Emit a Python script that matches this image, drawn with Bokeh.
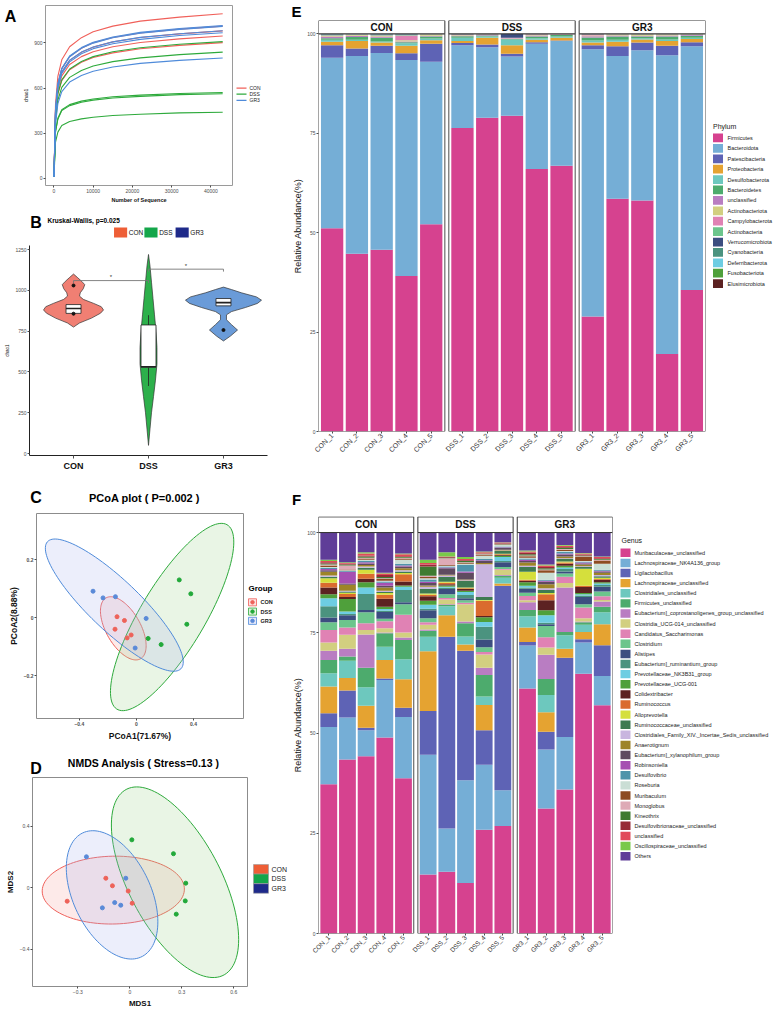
import math
import numpy as np
from bokeh.plotting import figure
from bokeh.layouts import row, column
from bokeh.models import FixedTicker, ColumnDataSource, Range1d, BasicTickFormatter
from bokeh.core.properties import value
from bokeh.embed import file_html
from bokeh.resources import INLINE

FONT = "Liberation Sans"

# ------------------------------------------------------------------ data
groups = ["CON", "DSS", "GR3"]

# A: rarefaction curves, chao1 against number of sequences
seq_depth = [10, 400, 1000, 2000, 4000, 7000, 10000, 15000, 22000, 32000, 43000]
rare_con = [
    [10, 492, 678, 788, 875, 935, 974, 1012, 1045, 1072, 1094],
    [10, 455, 627, 729, 810, 865, 901, 936, 966, 992, 1012],
    [10, 441, 608, 706, 784, 838, 872, 907, 936, 960, 980],
    [10, 426, 587, 681, 757, 809, 842, 875, 903, 927, 946],
    [10, 406, 559, 649, 722, 771, 803, 834, 861, 884, 902],
]
rare_dss = [
    [10, 409, 564, 654, 727, 777, 809, 841, 868, 891, 909],
    [10, 378, 520, 604, 671, 717, 747, 776, 801, 822, 839],
    [10, 314, 399, 456, 490, 513, 527, 542, 553, 564, 570],
    [10, 309, 393, 450, 483, 506, 520, 534, 545, 556, 562],
    [10, 241, 307, 351, 378, 395, 406, 417, 426, 435, 439],
]
rare_gr3 = [
    [10, 457, 630, 732, 813, 869, 904, 940, 970, 996, 1016],
    [10, 455, 626, 727, 808, 864, 899, 934, 965, 990, 1010],
    [10, 441, 608, 706, 785, 839, 873, 907, 937, 961, 981],
    [10, 436, 600, 697, 774, 828, 862, 895, 924, 949, 968],
    [10, 360, 496, 576, 640, 684, 712, 740, 764, 784, 800],
]

# B: chao1 violins (value, half width) plus box summaries
violin_con_y = [775, 800, 830, 860, 880, 900, 920, 945, 965, 985, 1010, 1035, 1055, 1080, 1100]
violin_con_w = [0, 0.08, 0.24, 0.36, 0.40, 0.37, 0.27, 0.13, 0.08, 0.09, 0.13, 0.15, 0.11, 0.05, 0]
violin_dss_y = [50, 150, 250, 350, 450, 550, 650, 750, 850, 950, 1050, 1150, 1220]
violin_dss_w = [0, 0.02, 0.04, 0.067, 0.093, 0.113, 0.113, 0.10, 0.08, 0.06, 0.04, 0.02, 0]
violin_gr3_y = [690, 720, 757, 790, 820, 850, 870, 895, 920, 940, 960, 985, 1005, 1020]
violin_gr3_w = [0, 0.093, 0.187, 0.107, 0.04, 0.04, 0.107, 0.293, 0.453, 0.507, 0.44, 0.24, 0.107, 0]
box_q1 = [859, 529, 905]
box_med = [889, 532, 925]
box_q3 = [913, 788, 950]
box_lo = [859, 414, 905]
box_hi = [913, 848, 950]
outlier_x = [1, 1, 3]
outlier_y = [1030, 857, 757]
sig_left = [1, 2]
sig_right = [2, 3]
sig_y = [1060, 1130]
sig_text = ["*", "*"]

# C: PCoA scores
pcoa1_con = [-0.136, -0.084, -0.150, -0.037, -0.065]
pcoa2_con = [0.003, -0.010, -0.040, -0.060, -0.070]
pcoa1_dss = [0.300, 0.381, 0.353, 0.173, 0.082]
pcoa2_dss = [0.130, 0.082, -0.023, -0.093, -0.072]
pcoa1_gr3 = [-0.304, -0.234, -0.147, 0.068, -0.009]
pcoa2_gr3 = [0.091, 0.068, 0.072, -0.003, -0.105]
# confidence ellipses: centre x, centre y, half extent x, half extent y, correlation
pcoa_ell_con = (-0.092, -0.037, 0.160, 0.109, -0.55)
pcoa_ell_dss = (0.250, 0.002, 0.432, 0.323, 0.80)
pcoa_ell_gr3 = (-0.155, 0.043, 0.483, 0.228, -0.86)

# D: NMDS scores
mds1_con = [-0.138, -0.100, -0.009, 0.014, -0.361]
mds2_con = [0.062, 0.013, -0.021, -0.100, -0.087]
mds1_dss = [0.012, 0.252, 0.323, 0.320, 0.268]
mds2_dss = [0.311, 0.221, 0.030, -0.085, -0.171]
mds1_gr3 = [-0.250, -0.023, -0.087, -0.052, -0.158]
mds2_gr3 = [0.201, 0.062, -0.096, -0.113, -0.130]
nmds_ell_con = (-0.095, -0.015, 0.410, 0.220, 0.03)
nmds_ell_dss = (0.261, 0.036, 0.367, 0.618, -0.60)
nmds_ell_gr3 = (-0.102, -0.046, 0.264, 0.416, -0.42)

# E: phylum relative abundance (%)
samples = ["CON_1", "CON_2", "CON_3", "CON_4", "CON_5",
           "DSS_1", "DSS_2", "DSS_3", "DSS_4", "DSS_5",
           "GR3_1", "GR3_2", "GR3_3", "GR3_4", "GR3_5"]
phyla = ["Firmicutes", "Bacteroidota", "Patescibacteria", "Proteobacteria",
         "Desulfobacterota", "Bacteroidetes", "unclassified", "Actinobacteriota",
         "Campylobacterota", "Actinobacteria", "Verrucomicrobiota", "Cyanobacteria",
         "Deferribacterota", "Fusobacteriota", "Elusimicrobiota"]
phylum_CON_1 = [51.1, 42.9, 3.1, 0.9, 0.5, 0.4, 0.3, 0.2, 0.2, 0.1, 0.1, 0.1, 0.1, 0.0, 0.0]
phylum_CON_2 = [44.7, 49.7, 1.9, 1.9, 0.3, 0.7, 0.3, 0.2, 0.1, 0.1, 0.0, 0.0, 0.1, 0.0, 0.0]
phylum_CON_3 = [45.7, 49.5, 1.8, 0.8, 0.3, 0.9, 0.2, 0.2, 0.2, 0.1, 0.1, 0.1, 0.1, 0.0, 0.0]
phylum_CON_4 = [39.1, 54.3, 1.7, 1.9, 0.6, 0.3, 0.2, 0.3, 1.2, 0.1, 0.1, 0.1, 0.1, 0.0, 0.0]
phylum_CON_5 = [52.1, 40.9, 4.5, 0.9, 0.4, 0.5, 0.2, 0.3, 0.1, 0.1, 0.0, 0.0, 0.0, 0.0, 0.0]
phylum_DSS_1 = [76.3, 20.8, 0.6, 0.5, 0.8, 0.4, 0.2, 0.1, 0.1, 0.1, 0.1, 0.0, 0.0, 0.0, 0.0]
phylum_DSS_2 = [78.9, 17.7, 0.7, 1.7, 0.3, 0.3, 0.1, 0.1, 0.1, 0.0, 0.1, 0.0, 0.0, 0.0, 0.0]
phylum_DSS_3 = [79.4, 14.9, 0.7, 2.1, 1.5, 0.1, 0.1, 0.1, 0.1, 0.0, 1.0, 0.0, 0.0, 0.0, 0.0]
phylum_DSS_4 = [66.0, 31.5, 0.4, 0.6, 0.4, 0.4, 0.3, 0.1, 0.2, 0.1, 0.0, 0.0, 0.0, 0.0, 0.0]
phylum_DSS_5 = [66.8, 31.4, 0.1, 0.7, 0.3, 0.4, 0.1, 0.1, 0.1, 0.0, 0.0, 0.0, 0.0, 0.0, 0.0]
phylum_GR3_1 = [28.9, 67.2, 1.0, 0.7, 0.5, 0.8, 0.3, 0.2, 0.2, 0.1, 0.1, 0.0, 0.0, 0.0, 0.0]
phylum_GR3_2 = [58.5, 35.9, 2.5, 1.1, 0.5, 0.8, 0.3, 0.2, 0.1, 0.1, 0.0, 0.0, 0.0, 0.0, 0.0]
phylum_GR3_3 = [58.1, 37.8, 1.9, 0.8, 0.3, 0.4, 0.2, 0.3, 0.1, 0.1, 0.0, 0.0, 0.0, 0.0, 0.0]
phylum_GR3_4 = [19.5, 75.1, 2.4, 1.2, 0.4, 0.7, 0.3, 0.2, 0.1, 0.1, 0.0, 0.0, 0.0, 0.0, 0.0]
phylum_GR3_5 = [35.6, 61.3, 1.0, 0.8, 0.3, 0.5, 0.2, 0.1, 0.1, 0.1, 0.0, 0.0, 0.0, 0.0, 0.0]

# F: genus relative abundance (%)
genera = ["Muribaculaceae_unclassified", "Lachnospiraceae_NK4A136_group", "Ligilactobacillus",
          "Lachnospiraceae_unclassified", "Clostridiales_unclassified", "Firmicutes_unclassified",
          "Eubacterium]_coprostanoligenes_group_unclassified", "Clostridia_UCG-014_unclassified",
          "Candidatus_Saccharimonas", "Clostridium", "Alistipes", "Eubacterium]_ruminantium_group",
          "Prevotellaceae_NK3B31_group", "Prevotellaceae_UCG-001", "Colidextribacter",
          "Ruminococcus", "Alloprevotella", "Ruminococcaceae_unclassified",
          "Clostridiales_Family_XIV._Incertae_Sedis_unclassified", "Anaerotignum",
          "Eubacterium]_xylanophilum_group", "Robinsoniella", "Desulfovibrio", "Roseburia",
          "Muribaculum", "Monoglobus", "Kineothrix", "Desulfovibrionaceae_unclassified",
          "unclassified", "Oscillospiraceae_unclassified", "Others"]
genus_CON_1 = [37.2, 14.3, 3.4, 6.7, 3.3, 3.3, 2.3, 2.1, 3.1, 1.9, 1.2, 2.8, 2.0, 1.0, 1.7, 1.2,
               1.1, 0.4, 0.3, 0.9, 0.4, 0.3, 0.3, 0.2, 0.4, 0.2, 0.3, 0.3, 0.3, 0.3, 6.8]
genus_CON_2 = [43.4, 10.5, 6.7, 3.1, 4.3, 1.1, 1.9, 3.5, 1.8, 1.9, 1.2, 0.3, 0.6, 3.1, 0.5, 0.8,
               0.3, 0.3, 0.2, 1.5, 0.3, 2.9, 0.2, 0.2, 0.2, 1.0, 0.2, 0.2, 0.2, 0.2, 7.4]
genus_CON_3 = [44.2, 6.5, 0.6, 5.5, 4.6, 4.9, 8.3, 1.1, 1.7, 2.7, 0.6, 4.0, 1.6, 1.3, 0.9, 1.2,
               1.0, 0.5, 0.3, 0.4, 0.4, 0.3, 0.3, 0.3, 0.3, 0.2, 0.3, 0.3, 0.5, 0.3, 4.9]
genus_CON_4 = [48.9, 14.3, 0.4, 4.6, 3.3, 3.4, 0.2, 1.0, 1.8, 0.6, 1.7, 0.3, 0.4, 0.6, 2.0, 1.0,
               0.4, 0.3, 0.3, 0.8, 0.4, 0.8, 0.3, 0.2, 0.4, 0.2, 0.3, 0.5, 0.4, 0.2, 10.0]
genus_CON_5 = [38.7, 15.3, 2.3, 7.1, 5.0, 4.8, 0.6, 1.3, 4.4, 2.6, 0.5, 3.1, 0.8, 0.3, 1.0, 1.8,
               0.3, 0.4, 0.3, 0.5, 0.4, 0.3, 0.4, 1.0, 0.3, 0.2, 0.2, 0.2, 0.5, 0.2, 5.2]
genus_DSS_1 = [14.7, 29.9, 10.9, 14.9, 3.6, 1.5, 0.3, 1.2, 0.6, 1.0, 2.0, 0.4, 1.0, 1.0, 1.1, 0.4,
               0.3, 1.2, 0.5, 0.3, 0.6, 0.3, 0.6, 0.3, 0.3, 0.3, 2.3, 0.5, 0.4, 0.8, 6.8]
genus_DSS_2 = [15.4, 10.8, 47.8, 5.4, 2.2, 0.3, 0.2, 1.2, 0.4, 0.9, 1.3, 0.3, 0.3, 0.3, 0.3, 0.4,
               0.2, 1.2, 0.4, 0.2, 1.6, 0.2, 0.2, 0.2, 0.2, 1.7, 0.1, 0.2, 0.1, 1.1, 4.9]
genus_DSS_3 = [12.6, 25.6, 32.3, 1.6, 2.0, 3.3, 0.4, 4.3, 0.4, 0.6, 0.5, 0.8, 0.8, 0.3, 0.4, 0.2,
               0.2, 1.6, 0.2, 0.2, 1.7, 0.3, 1.6, 0.3, 0.2, 0.2, 0.3, 0.2, 0.3, 0.5, 6.1]
genus_DSS_4 = [25.9, 16.2, 8.6, 6.3, 2.1, 5.4, 1.8, 3.3, 0.6, 1.2, 1.9, 3.2, 1.2, 1.2, 0.3, 3.8,
               0.2, 0.7, 8.2, 0.3, 0.5, 0.2, 0.3, 0.8, 0.2, 0.2, 0.1, 0.1, 0.3, 0.2, 4.7]
genus_DSS_5 = [26.8, 8.9, 51.0, 0.6, 1.4, 0.5, 0.2, 1.3, 0.2, 0.5, 1.2, 0.3, 1.0, 0.3, 0.2, 0.2,
               0.1, 0.7, 0.1, 0.2, 0.5, 0.1, 0.2, 0.4, 0.1, 0.1, 0.1, 0.1, 0.2, 0.1, 2.4]
genus_GR3_1 = [61.1, 10.7, 0.9, 3.6, 2.8, 1.6, 1.9, 0.5, 1.1, 0.8, 1.0, 0.3, 0.4, 0.9, 0.4, 0.2,
               2.0, 1.2, 0.3, 0.8, 0.4, 0.3, 0.3, 0.2, 0.4, 0.2, 0.3, 0.4, 0.3, 0.2, 4.5]
genus_GR3_2 = [31.2, 14.7, 4.4, 4.9, 4.3, 4.0, 6.0, 1.8, 2.6, 2.8, 0.4, 0.4, 1.9, 1.2, 2.5, 1.5,
               0.3, 0.8, 0.4, 1.0, 0.6, 0.3, 0.2, 1.8, 0.6, 0.2, 0.3, 0.3, 0.4, 0.2, 8.0]
genus_GR3_3 = [35.9, 13.1, 19.8, 2.2, 3.4, 0.8, 11.1, 1.1, 1.6, 0.8, 0.5, 0.6, 0.4, 0.4, 0.5, 0.3,
               0.3, 0.6, 0.2, 0.4, 0.5, 0.3, 0.4, 0.2, 0.3, 0.2, 0.3, 0.2, 0.3, 0.2, 3.1]
genus_GR3_4 = [64.8, 7.8, 0.8, 1.8, 1.8, 0.6, 0.2, 0.8, 2.7, 0.8, 1.8, 0.4, 0.3, 0.3, 1.5, 0.3,
               4.3, 0.4, 0.2, 0.4, 0.3, 0.2, 0.2, 0.2, 1.0, 0.2, 0.2, 0.2, 0.3, 0.1, 5.1]
genus_GR3_5 = [56.9, 7.3, 7.7, 5.2, 3.0, 1.4, 1.3, 0.4, 0.9, 1.2, 1.2, 0.4, 0.4, 0.3, 0.6, 0.2,
               0.3, 0.4, 0.3, 0.6, 0.3, 0.2, 0.2, 1.5, 0.8, 0.2, 0.2, 0.2, 0.3, 0.1, 6.0]

phylum_rows = [phylum_CON_1, phylum_CON_2, phylum_CON_3, phylum_CON_4, phylum_CON_5,
               phylum_DSS_1, phylum_DSS_2, phylum_DSS_3, phylum_DSS_4, phylum_DSS_5,
               phylum_GR3_1, phylum_GR3_2, phylum_GR3_3, phylum_GR3_4, phylum_GR3_5]
genus_rows = [genus_CON_1, genus_CON_2, genus_CON_3, genus_CON_4, genus_CON_5,
              genus_DSS_1, genus_DSS_2, genus_DSS_3, genus_DSS_4, genus_DSS_5,
              genus_GR3_1, genus_GR3_2, genus_GR3_3, genus_GR3_4, genus_GR3_5]

# ------------------------------------------------------------------ palettes
taxa_colors = ["#D6428F", "#75AED6", "#5E63B5", "#E5A331", "#6DC8BE", "#4DAB6D", "#B97DC2",
               "#D2CF80", "#E082B4", "#6CC58C", "#3C4E80", "#4B937F", "#6DCDE2", "#4FA03B",
               "#5C2222", "#DA6B2E", "#D5DF3C", "#3F7B52", "#C9B5DF", "#9D8428", "#5F4B60",
               "#A650B2", "#4F94AA", "#CADED5", "#8D4B22", "#DEAAB6", "#3F7B31", "#972B36",
               "#E14A59", "#79C94A", "#5F3D98"]
line_col = {"CON": "#F0605A", "DSS": "#2EAA3C", "GR3": "#4F8BDA"}
point_col = {"CON": "#EE6259", "DSS": "#22A93A", "GR3": "#5A8AD8"}
violin_fill = {"CON": "#F07F73", "DSS": "#2DB04B", "GR3": "#6A9BD8"}
key_col = {"CON": "#EE5E36", "DSS": "#14A64A", "GR3": "#1E2A8A"}
ell_fill = {"CON": "#F8A09A", "DSS": "#9CD38A", "GR3": "#A9B3EE"}


# ------------------------------------------------------------------ helpers
def base_fig(w, h, left, right, top, bottom, xr, yr):
    p = figure(width=w, height=h, x_range=Range1d(*xr), y_range=Range1d(*yr),
               output_backend="svg", toolbar_location=None, tools="",
               min_border_left=left, min_border_right=right,
               min_border_top=top, min_border_bottom=bottom)
    p.grid.visible = False
    p.background_fill_color = "white"
    p.border_fill_color = "white"
    p.outline_line_color = None
    for ax in (p.xaxis[0], p.yaxis[0]):
        ax.major_tick_in = 0
        ax.major_tick_out = 2
        ax.minor_tick_line_color = None
        ax.major_label_text_font = FONT
        ax.axis_label_text_font = FONT
        ax.axis_label_text_font_style = "normal"
        ax.major_label_standoff = 1
        ax.axis_label_standoff = 2
        ax.major_label_text_color = "#4D4D4D"
        ax.major_tick_line_color = "#4D4D4D"
        ax.axis_label_text_color = "#111111"
    return p


def text_fig(w, h):
    # plain strip whose data units are pixels from its top-left corner
    p = figure(width=w, height=h, x_range=Range1d(0, w), y_range=Range1d(h, 0),
               output_backend="svg", toolbar_location=None, tools="", min_border=0,
               x_axis_location=None, y_axis_location=None)
    p.grid.visible = False
    p.outline_line_color = None
    p.background_fill_color = "white"
    p.border_fill_color = "white"
    return p


def put_text(p, x, y, txt, size, bold=False, align="left", color="black"):
    p.text(x=[x], y=[y], text=[txt], text_font=value(FONT), text_font_size=f"{size}px",
           text_font_style="bold" if bold else "normal", text_align=align,
           text_baseline="middle", text_color=color)


def put_texts(p, xs, ys, txts, size, bold=False, color="#222222"):
    p.text(x=xs, y=ys, text=txts, text_font=value(FONT), text_font_size=f"{size}px",
           text_font_style="bold" if bold else "normal", text_align="left",
           text_baseline="middle", text_color=color)


def ellipse_pts(params, n=120):
    cx, cy, hx, hy, rho = params
    t = np.linspace(0, 2 * np.pi, n)
    xs = cx + hx * np.cos(t)
    ys = cy + hy * (rho * np.cos(t) + np.sqrt(1 - rho ** 2) * np.sin(t))
    return xs, ys


# ------------------------------------------------------------------ A: rarefaction
stripA = text_fig(20, 205)
put_text(stripA, 10, 13, "A", 16, bold=True, align="center")

pA = base_fig(214, 205, 18, 2, 5, 17, (-2150, 45500), (-48, 1149))
pA.outline_line_color = "#9A9A9A"
pA.xaxis.axis_line_color = None
pA.yaxis.axis_line_color = None
pA.xaxis.ticker = FixedTicker(ticks=[0, 10000, 20000, 30000, 40000])
pA.xaxis.formatter = BasicTickFormatter(use_scientific=False)
pA.yaxis.ticker = FixedTicker(ticks=[0, 300, 600, 900])
pA.xaxis.major_label_text_font_size = "5px"
pA.yaxis.major_label_text_font_size = "5px"
pA.xaxis.axis_label = "Number of Sequence"
pA.xaxis.axis_label_text_font_size = "5.5px"
pA.xaxis.axis_label_text_font_style = "bold"
pA.xaxis.axis_label_standoff = 1
pA.yaxis.axis_label = "chao1"
pA.yaxis.axis_label_text_font_size = "5px"
for g, curves in zip(groups, [rare_con, rare_dss, rare_gr3]):
    for c in curves:
        pA.line(seq_depth, c, line_color=line_col[g], line_width=1.1)

legA = text_fig(56, 205)
rows_y = [94, 101, 108]
legA.segment(x0=[2] * 3, x1=[12] * 3, y0=rows_y, y1=rows_y,
             line_color=[line_col[g] for g in groups], line_width=1.2)
put_texts(legA, [15] * 3, rows_y, groups, 5)

# ------------------------------------------------------------------ B: violin
headB = text_fig(290, 40)
put_text(headB, 8, 17, "B", 16, bold=True, align="center")
put_text(headB, 22, 14.5, "Kruskal-Wallis, p=0.025", 6.5, bold=True)
key_left = [103, 140, 178]
headB.quad(left=key_left, right=[k + 16 for k in key_left], top=[22] * 3, bottom=[32] * 3,
           fill_color=[key_col[g] for g in groups], line_color=None)
put_texts(headB, [k + 18 for k in key_left], [27] * 3, groups, 6.5, color="#111111")

pB = base_fig(290, 228, 29, 23, 0, 16, (0.413, 3.587), (-12, 1275))
for ax in (pB.xaxis[0], pB.yaxis[0]):
    ax.axis_line_color = "#222222"
    ax.axis_line_width = 1
pB.xaxis.ticker = FixedTicker(ticks=[1, 2, 3])
pB.xaxis.major_label_overrides = {1: "CON", 2: "DSS", 3: "GR3"}
pB.xaxis.major_label_text_font_size = "9px"
pB.xaxis.major_label_text_font_style = "bold"
pB.xaxis.major_label_text_color = "#111111"
pB.xaxis.major_label_standoff = 2
pB.xaxis.major_tick_out = 3
pB.yaxis.ticker = FixedTicker(ticks=[0, 250, 500, 750, 1000, 1250])
pB.yaxis.major_label_text_font_size = "5px"
pB.yaxis.axis_label = "chao1"
pB.yaxis.axis_label_text_font_size = "4.5px"
violins = [(violin_con_y, violin_con_w), (violin_dss_y, violin_dss_w), (violin_gr3_y, violin_gr3_w)]
for i, (g, (vy, vw)) in enumerate(zip(groups, violins)):
    c = i + 1
    vy = np.array(vy, float)
    vw = np.array(vw, float)
    xs = np.concatenate([c - vw, (c + vw)[::-1]])
    ys = np.concatenate([vy, vy[::-1]])
    pB.patch(xs, ys, fill_color=violin_fill[g], line_color="#333333", line_width=0.7)
centers = [1, 2, 3]
pB.segment(x0=centers, y0=box_q3, x1=centers, y1=box_hi, line_color="#222222", line_width=0.8)
pB.segment(x0=centers, y0=box_lo, x1=centers, y1=box_q1, line_color="#222222", line_width=0.8)
pB.quad(left=[c - 0.1 for c in centers], right=[c + 0.1 for c in centers],
        bottom=box_q1, top=box_q3, fill_color="white", line_color="#222222", line_width=0.8)
pB.segment(x0=[c - 0.1 for c in centers], y0=box_med, x1=[c + 0.1 for c in centers], y1=box_med,
           line_color="#222222", line_width=1.6)
pB.scatter(outlier_x, outlier_y, size=3, color="#111111")
for xl, xr, yv, lab in zip(sig_left, sig_right, sig_y, sig_text):
    pB.line([xl, xl, xr, xr], [yv - 15, yv, yv, yv - 15], line_color="#777777", line_width=0.9)
    pB.text(x=[(xl + xr) / 2], y=[yv + 20], text=[lab], text_font=value(FONT),
            text_font_size="6px", text_align="center", text_baseline="middle", text_color="#333333")

# ------------------------------------------------------------------ C: PCoA
headC = text_fig(290, 40)
put_text(headC, 8, 24, "C", 16, bold=True, align="center")
put_text(headC, 140, 24, "PCoA plot ( P=0.002 )", 11, bold=True, align="center")

pC = base_fig(245, 232, 36, 2, 0, 27, (-0.70, 0.75), (-0.348, 0.359))
pC.outline_line_color = "#8C8C8C"
pC.xaxis.axis_line_color = None
pC.yaxis.axis_line_color = None
pC.xaxis.ticker = FixedTicker(ticks=[-0.4, 0.0, 0.4])
pC.yaxis.ticker = FixedTicker(ticks=[-0.2, 0.0, 0.2])
for ax in (pC.xaxis[0], pC.yaxis[0]):
    ax.formatter = BasicTickFormatter(precision=1)
    ax.major_label_text_font_size = "5px"
    ax.major_label_text_font_style = "bold"
    ax.axis_label_text_font_size = "8.5px"
    ax.axis_label_text_font_style = "bold"
pC.xaxis.axis_label = "PCoA1(71.67%)"
pC.yaxis.axis_label = "PCoA2(8.88%)"
c_sets = [("CON", pcoa1_con, pcoa2_con, pcoa_ell_con),
          ("DSS", pcoa1_dss, pcoa2_dss, pcoa_ell_dss),
          ("GR3", pcoa1_gr3, pcoa2_gr3, pcoa_ell_gr3)]
for g, xs, ys, ell in c_sets:
    ex, ey = ellipse_pts(ell)
    pC.patch(ex, ey, fill_color=ell_fill[g], fill_alpha=0.22, line_color=line_col[g], line_width=1)
for g, xs, ys, ell in c_sets:
    pC.scatter(xs, ys, size=4, color=point_col[g])

legC = text_fig(45, 232)
put_text(legC, 3, 85, "Group", 8, bold=True)
key_y = [100.5, 111, 121.5]
legC.quad(left=[3] * 3, right=[11] * 3, top=[k - 4 for k in key_y], bottom=[k + 4 for k in key_y],
          fill_color=[ell_fill[g] for g in groups], fill_alpha=0.3,
          line_color=[line_col[g] for g in groups], line_width=0.8)
legC.scatter([7] * 3, key_y, size=3.5, color=[point_col[g] for g in groups])
put_texts(legC, [15] * 3, key_y, groups, 5.5, bold=True)

# ------------------------------------------------------------------ D: NMDS
headD = text_fig(290, 32)
put_text(headD, 8, 23, "D", 16, bold=True, align="center")
put_text(headD, 139, 17, "NMDS Analysis ( Stress=0.13 )", 10.5, bold=True, align="center")

pD = base_fig(249, 233, 32, 2, 0, 22, (-0.561, 0.679), (-0.64, 0.715))
pD.outline_line_color = "#8C8C8C"
pD.xaxis.axis_line_color = None
pD.yaxis.axis_line_color = None
pD.xaxis.ticker = FixedTicker(ticks=[-0.3, 0.0, 0.3, 0.6])
pD.yaxis.ticker = FixedTicker(ticks=[-0.4, 0.0, 0.4])
for ax in (pD.xaxis[0], pD.yaxis[0]):
    ax.formatter = BasicTickFormatter(precision=1)
    ax.major_label_text_font_size = "5px"
    ax.axis_label_text_font_size = "8px"
    ax.axis_label_text_font_style = "bold"
pD.xaxis.axis_label = "MDS1"
pD.yaxis.axis_label = "MDS2"
d_sets = [("CON", mds1_con, mds2_con, nmds_ell_con),
          ("DSS", mds1_dss, mds2_dss, nmds_ell_dss),
          ("GR3", mds1_gr3, mds2_gr3, nmds_ell_gr3)]
for g, xs, ys, ell in d_sets:
    ex, ey = ellipse_pts(ell)
    pD.patch(ex, ey, fill_color=ell_fill[g], fill_alpha=0.22, line_color=line_col[g], line_width=1)
for g, xs, ys, ell in d_sets:
    pD.scatter(xs, ys, size=4, color=point_col[g])

legD = text_fig(41, 233)
d_key_y = [102.3, 113, 123.7]
legD.quad(left=[4] * 3, right=[19] * 3, top=[k - 5.3 for k in d_key_y],
          bottom=[k + 5.3 for k in d_key_y], fill_color=[key_col[g] for g in groups],
          line_color="#9A9A9A", line_width=0.6)
put_texts(legD, [22] * 3, d_key_y, groups, 7)


# ------------------------------------------------------------------ E / F: stacked bars
def stacked(w, h, left, top, bottom, step, y_top, strip_top, rows, names, label_size):
    x_hi = 2 * step + 555
    p = base_fig(w, h, left, 2, top, bottom, (45, x_hi), (0, y_top))
    pos = [k * step + 100 * (i + 1) for k in range(3) for i in range(5)]
    data = {"x": pos}
    for j, n in enumerate(names):
        data[n] = [r[j] for r in rows]
    src = ColumnDataSource(data)
    cols = taxa_colors[:len(names)]
    p.vbar_stack(names, x="x", width=90, fill_color=cols, line_color=None, source=src)
    lefts = [k * step + 45 for k in range(3)]
    rights = [k * step + 555 for k in range(3)]
    p.quad(left=lefts, right=rights, bottom=0, top=100, fill_color=None,
           line_color="#4D4D4D", line_width=1)
    p.quad(left=lefts, right=rights, bottom=100, top=strip_top, fill_color="white",
           line_color="#333333", line_width=1)
    p.text(x=[(a + b) / 2 for a, b in zip(lefts, rights)], y=[(100 + strip_top) / 2] * 3,
           text=groups, text_font=value(FONT), text_font_style="bold", text_font_size="10px",
           text_align="center", text_baseline="middle", text_color="#111111")
    p.xaxis.axis_line_color = None
    p.yaxis.axis_line_color = None
    p.yaxis.ticker = FixedTicker(ticks=[0, 25, 50, 75, 100])
    p.yaxis.major_label_text_font_size = "5px"
    p.yaxis.axis_label = "Relative Abundance(%)"
    p.yaxis.axis_label_text_font_size = "9px"
    p.yaxis.axis_label_standoff = 1
    p.xaxis.ticker = FixedTicker(ticks=pos)
    p.xaxis.major_label_overrides = {x: s for x, s in zip(pos, samples)}
    p.xaxis.major_label_orientation = math.pi / 4
    p.xaxis.major_label_text_font_size = f"{label_size}px"
    p.xaxis.major_label_text_color = "#333333"
    return p


def taxa_legend(w, h, title, title_x, title_y, names, key_x, first_y, pitch, label_x):
    lf = text_fig(w, h)
    put_text(lf, title_x, title_y, title, 7, color="#222222")
    ys = [first_y + i * pitch for i in range(len(names))]
    lf.quad(left=[key_x] * len(names), right=[key_x + 10] * len(names),
            top=[y - 5 for y in ys], bottom=[y + 5 for y in ys],
            fill_color=taxa_colors[:len(names)], line_color=None)
    put_texts(lf, [label_x] * len(names), ys, names, 5.5)
    return lf


headE = text_fig(488, 20)
put_text(headE, 6, 11, "E", 15, bold=True, align="center")
pE = stacked(417, 470, 24, 0, 59, 526, 103.35, 103.35, phylum_rows, phyla, 7)
legE = taxa_legend(71, 470, "Phylum", 5.5, 121.5, phyla, 5.5, 134.3, 11.9, 20)

headF = text_fig(488, 26)
put_text(headF, 6, 9, "F", 15, bold=True, align="center")
pF = stacked(324, 494, 23, 0, 77, 532, 104.0, 103.9, genus_rows, genera, 6.5)
legF = taxa_legend(164, 494, "Genus", 7, 29, genera, 6, 43, 11.98, 20)

layout = row(column(row(stripA, pA, legA), headB, pB, headC, row(pC, legC), headD, row(pD, legD)),
             column(headE, row(pE, legE), headF, row(pF, legF)))
open("out.html", "w").write(file_html(layout, INLINE))
